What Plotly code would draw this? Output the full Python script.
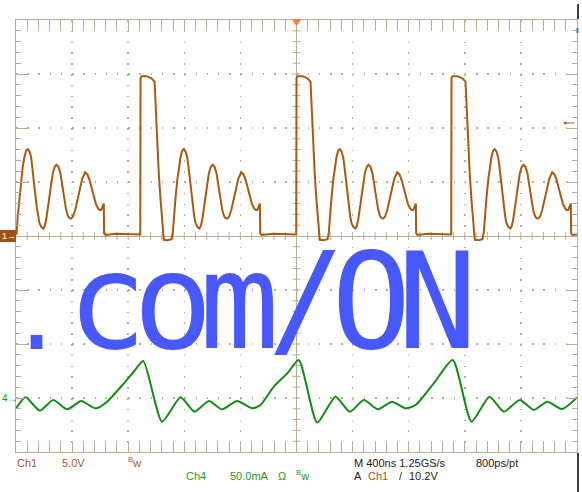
import plotly.graph_objects as go

# ---------------- data (time in ns, Ch1 in V, Ch4 in mA) ----------------
ch1_t_a = [-2000, -1995, -1988, -1975, -1963, -1952, -1940, -1928, -1916, -1904, -1892, -1883, -1873,
           -1863, -1852, -1842, -1833, -1820, -1806, -1796, -1785, -1774, -1762, -1749, -1738, -1724,
           -1712, -1697, -1683, -1669, -1655, -1642, -1631, -1619, -1607, -1593, -1578, -1563, -1548,
           -1528, -1507, -1491, -1476, -1461, -1446, -1431, -1417, -1405, -1393, -1384, -1374, -1372,
           -1362, -1290, -1200, -1114]
ch1_v_a = [0.1, 0.3, 1.8, 3.6, 5.2, 6.4, 7.3, 7.9, 8.05, 7.8, 7.3, 6.4, 5.2,
           3.9, 2.7, 1.8, 1.2, 0.85, 0.7, 0.9, 1.5, 2.5, 3.6, 4.8, 5.8, 6.4,
           6.6, 6.4, 5.8, 4.6, 3.3, 2.4, 1.9, 1.65, 1.6, 1.8, 2.4, 3.3, 4.3,
           5.3, 5.9, 5.7, 5.2, 4.4, 3.6, 3.0, 2.6, 2.4, 2.4, 2.7, 3.0, 0.25,
           0.1, 0.2, 0.15, 0.15]

ch1_t_b = [-1112, -1105, -1069, -1034, -1012, -1003, -993, -982, -969, -957, -946, -919, -891,
           -882, -875, -862, -850, -839, -827, -815, -803, -791, -779, -770, -760, -750, -739,
           -729, -720, -707, -693, -683, -672, -661, -649, -636, -625, -611, -599, -584, -570,
           -556, -542, -529, -518, -506, -494, -480, -465, -450, -435, -415, -394, -378, -363,
           -348, -333, -318, -304, -292, -280, -271, -261, -259, -249, -170, -80, -2]
ch1_v_b = [14.6, 14.8, 14.8, 14.6, 14.3, 11.7, 8.6, 5.8, 3.3, 0.9, -0.35, -0.4, -0.3,
           0.3, 1.8, 3.6, 5.2, 6.4, 7.3, 7.9, 8.05, 7.8, 7.3, 6.4, 5.2, 3.9, 2.7,
           1.8, 1.2, 0.85, 0.7, 0.9, 1.5, 2.5, 3.6, 4.8, 5.8, 6.4, 6.6, 6.4, 5.8,
           4.6, 3.3, 2.4, 1.9, 1.65, 1.6, 1.8, 2.4, 3.3, 4.3, 5.3, 5.9, 5.7, 5.2,
           4.4, 3.6, 3.0, 2.6, 2.4, 2.4, 2.7, 3.0, 0.25, 0.1, 0.2, 0.15, 0.15]

ch1_t_c = [0, 7, 43, 78, 100, 109, 119, 130, 143, 155, 166, 193, 221,
           230, 237, 250, 262, 273, 285, 297, 309, 321, 333, 342, 352, 362, 373,
           383, 392, 405, 419, 429, 440, 451, 463, 476, 487, 501, 513, 528, 542,
           556, 570, 583, 594, 606, 618, 632, 647, 662, 677, 697, 718, 734, 749,
           764, 779, 794, 808, 820, 832, 841, 851, 853, 863, 940, 1030, 1103]
ch1_v_c = [14.6, 14.8, 14.8, 14.6, 14.3, 11.6, 8.5, 5.7, 3.2, 0.8, -0.35, -0.4, -0.3,
           0.3, 1.8, 3.6, 5.2, 6.4, 7.3, 7.9, 8.05, 7.8, 7.3, 6.4, 5.2, 3.9, 2.7,
           1.8, 1.2, 0.85, 0.7, 0.9, 1.5, 2.5, 3.6, 4.8, 5.8, 6.4, 6.6, 6.4, 5.8,
           4.6, 3.3, 2.4, 1.9, 1.65, 1.6, 1.8, 2.4, 3.3, 4.3, 5.3, 5.9, 5.7, 5.2,
           4.4, 3.6, 3.0, 2.6, 2.4, 2.4, 2.7, 3.0, 0.25, 0.1, 0.2, 0.15, 0.15]

ch1_t_d = [1105, 1112, 1148, 1183, 1205, 1214, 1224, 1235, 1248, 1260, 1271, 1298, 1326,
           1335, 1342, 1355, 1367, 1378, 1390, 1402, 1414, 1426, 1438, 1447, 1457, 1467, 1478,
           1488, 1497, 1510, 1524, 1534, 1545, 1556, 1568, 1581, 1592, 1606, 1618, 1633, 1647,
           1661, 1675, 1688, 1699, 1711, 1723, 1737, 1752, 1767, 1782, 1802, 1823, 1839, 1854,
           1869, 1884, 1899, 1913, 1925, 1937, 1946, 1956, 1958, 1968, 2000]
ch1_v_d = [14.6, 14.8, 14.8, 14.6, 14.3, 11.7, 8.6, 5.8, 3.3, 0.9, -0.35, -0.4, -0.3,
           0.3, 1.8, 3.6, 5.2, 6.4, 7.3, 7.9, 8.05, 7.8, 7.3, 6.4, 5.2, 3.9, 2.7,
           1.8, 1.2, 0.85, 0.7, 0.9, 1.5, 2.5, 3.6, 4.8, 5.8, 6.4, 6.6, 6.4, 5.8,
           4.6, 3.3, 2.4, 1.9, 1.65, 1.6, 1.8, 2.4, 3.3, 4.3, 5.3, 5.9, 5.7, 5.2,
           4.4, 3.6, 3.0, 2.6, 2.4, 2.4, 2.7, 3.0, 0.25, 0.1, 0.15]

ch4_t = [-2000, -1932, -1830, -1735, -1635, -1535, -1433, -1350, -1231, -1160, -1093, -958,
         -827, -727, -625, -530, -423, -316, -257, -162, -66, 16, 148, 278, 380, 480, 580,
         682, 777, 849, 979, 1114, 1248, 1376, 1478, 1592, 1692, 1788, 1894, 2000]
ch4_ma = [-9.6, 0.6, -11.7, -1.9, -10.5, -2.8, -9.6, -3.4, 13.6, 24.4, 34.3, -21.9,
          0.6, -12.7, -2.8, -10.5, -2.8, -9.6, -6.5, 10.5, 22.8, 35.2, -22.8, 1.2, -12.7, -1.9, -10.5,
          -3.4, -9.6, -6.5, 13.6, 35.2, -21.9, 1.2, -12.7, -1.9, -11.1, -3.4, -10.2, 0.6]

watermark_dot = "."
watermark_rest = "com/ON"

# ---------------- figure ----------------
W, H = 582, 492
ML, MR, MT, MB = 16, 5, 20, 40
PW, PH = W - ML - MR, H - MT - MB


def px(x):
    return (x - ML) / PW


def py(y):
    return (H - MB - y) / PH


GRID = "#B7AD92"
BROWN = "#A65A12"
GREEN = "#138C13"
TXT_BROWN = "#A8581C"
TXT_GREEN = "#1E9A1E"
DARK = "#222222"
BLUE = "#4858FF"

fig = go.Figure()
fig.add_trace(go.Scatter(x=ch1_t_a + ch1_t_b + ch1_t_c + ch1_t_d,
                         y=ch1_v_a + ch1_v_b + ch1_v_c + ch1_v_d,
                         mode="lines", line=dict(color=BROWN, width=2),
                         name="Ch1", hoverinfo="skip"))
fig.add_trace(go.Scatter(x=ch4_t, y=ch4_ma, yaxis="y2", mode="lines",
                         line=dict(color=GREEN, width=2, shape="spline", smoothing=0.6),
                         name="Ch4", hoverinfo="skip"))

fig.update_layout(
    width=W, height=H, margin=dict(l=ML, r=MR, t=MT, b=MB),
    paper_bgcolor="white", plot_bgcolor="white", showlegend=False,
    xaxis=dict(range=[-2000, 2000], tick0=0, dtick=400, showticklabels=False,
               showline=True, linecolor=GRID, linewidth=1, mirror="allticks",
               ticks="inside", ticklen=11, tickcolor=GRID, tickwidth=1,
               minor=dict(dtick=80, ticks="inside", ticklen=5, tickcolor=GRID, showgrid=False),
               showgrid=True, gridcolor=GRID, gridwidth=1.5, griddash="1.5px,9.3px",
               zeroline=True, zerolinecolor=GRID, zerolinewidth=1, fixedrange=True),
    yaxis=dict(range=[-20, 20], tick0=0, dtick=5, showticklabels=False,
               showline=True, linecolor=GRID, linewidth=1, mirror="allticks",
               ticks="inside", ticklen=11, tickcolor=GRID, tickwidth=1,
               minor=dict(dtick=1, ticks="inside", ticklen=5, tickcolor=GRID, showgrid=False),
               showgrid=True, gridcolor=GRID, gridwidth=1.5, griddash="1.5px,9.72px",
               zeroline=True, zerolinecolor=GRID, zerolinewidth=1, fixedrange=True),
    yaxis2=dict(range=[-50, 350], overlaying="y", visible=False, fixedrange=True),
)

shapes = []
# crossing ticks on the centre lines
for k in range(-24, 25):
    if k == 0:
        continue
    shapes.append(dict(type="line", xref="x", x0=k * 80, x1=k * 80, yref="y",
                       ysizemode="pixel", yanchor=0, y0=-4, y1=4,
                       line=dict(color=GRID, width=1), layer="below"))
for k in range(-19, 20):
    if k == 0:
        continue
    shapes.append(dict(type="line", yref="y", y0=k, y1=k, xref="x",
                       xsizemode="pixel", xanchor=0, x0=-4, x1=4,
                       line=dict(color=GRID, width=1), layer="below"))
# trigger position marker
shapes.append(dict(type="path", xref="x", xsizemode="pixel", xanchor=0,
                   yref="paper", ysizemode="pixel", yanchor=1,
                   path="M-5,1 L5,1 L0,-6 Z", fillcolor="#FF7A3C",
                   line=dict(color="#FF7A3C", width=0)))
# Ch1 ground marker box
shapes.append(dict(type="rect", xref="paper", x0=px(0), x1=0, yref="y", y0=0,
                   y1=0, ysizemode="pixel", yanchor=0,
                   line=dict(width=0), fillcolor="#A0520C"))
shapes[-1].update(y0=-6, y1=6)
# black edge lines at the right
shapes.append(dict(type="line", xref="paper", yref="paper", x0=px(578), x1=px(578),
                   y0=py(4), y1=py(19), line=dict(color="black", width=1.5)))
shapes.append(dict(type="line", xref="paper", yref="paper", x0=px(578), x1=px(578),
                   y0=py(453), y1=py(492), line=dict(color="black", width=1.5)))
shapes.append(dict(type="line", xref="paper", yref="paper", x0=px(577.5), x1=px(577.5),
                   y0=py(28), y1=py(33), line=dict(color="#3A6FD0", width=2)))
fig.update_layout(shapes=shapes)

ann = []
# channel ground markers
ann.append(dict(text="1→", xref="paper", x=px(1), xanchor="left", yref="y", y=0,
                yanchor="middle", showarrow=False, borderpad=0,
                font=dict(family="Liberation Sans", size=9, color="white")))
ann.append(dict(text="4→", xref="paper", x=px(0.5), xanchor="left", yref="y2", y=0,
                yanchor="middle", showarrow=False, borderpad=0,
                font=dict(family="Liberation Sans", size=10, color=TXT_GREEN)))
# trigger level arrow
ann.append(dict(text="", xref="paper", x=px(563), yref="paper", y=py(123), showarrow=True,
                ax=13, ay=0, arrowhead=2, arrowsize=0.7, arrowwidth=1, arrowcolor=BROWN))

# watermark text (monospaced, tightened pitch)
ann.append(dict(text=watermark_dot, xref="paper", x=px(36.5), xanchor="center",
                yref="paper", y=py(372), yanchor="bottom", showarrow=False, borderpad=0,
                font=dict(family="DejaVu Sans Mono", size=95, color=BLUE)))
ann.append(dict(text="<span style='letter-spacing:-14px'>" + watermark_rest + "</span>",
                xref="paper", x=px(66), xanchor="left",
                yref="paper", y=py(302), yanchor="middle", height=106, valign="middle",
                showarrow=False, borderpad=0,
                font=dict(family="DejaVu Sans Mono", size=133, color=BLUE)))


def label(text, x, y, color):
    ann.append(dict(text=text, xref="paper", x=px(x), xanchor="left", yref="paper", y=py(y),
                    yanchor="middle", showarrow=False, borderpad=0,
                    font=dict(family="Liberation Sans", size=11, color=color)))


label("Ch1", 16, 463, TXT_BROWN)
label("5.0V", 61, 463, TXT_BROWN)
label("<sup>B</sup>w", 127, 462, TXT_BROWN)
label("M 400ns 1.25GS/s", 353, 463, DARK)
label("800ps/pt", 475, 463, DARK)
label("Ch4", 185, 476, TXT_GREEN)
label("50.0mA", 229, 476, TXT_GREEN)
label("Ω", 277, 476, TXT_GREEN)
label("<sup>B</sup>w", 295, 475, TXT_GREEN)
label("A", 353, 476, DARK)
label("Ch1", 367, 476, TXT_BROWN)
label("/", 398, 476, DARK)
label("10.2V", 408, 476, DARK)

fig.update_layout(annotations=ann)
fig.write_html("out.html", config={"displayModeBar": False, "staticPlot": True},
               post_script="document.body.style.margin='0px';")
